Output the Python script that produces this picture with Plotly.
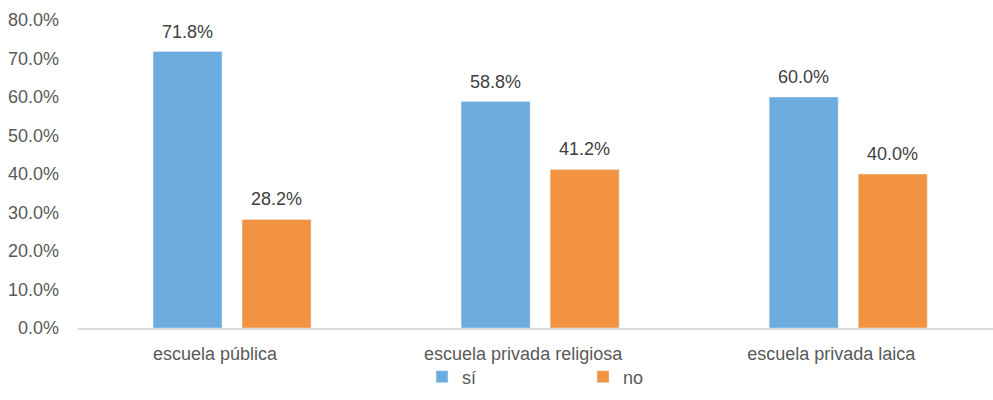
import plotly.graph_objects as go

categories = ["escuela pública", "escuela privada religiosa", "escuela privada laica"]
si_values = [0.718, 0.588, 0.600]
no_values = [0.282, 0.412, 0.400]
y_ticks = [0, 0.1, 0.2, 0.3, 0.4, 0.5, 0.6, 0.7, 0.8]

FONT = "Liberation Sans, Arial, sans-serif"
FS = 18
BLUE = "#6CABDD"
ORANGE = "#F19340"

fig = go.Figure()
fig.add_trace(go.Bar(name="sí", x=categories, y=si_values, marker_color=BLUE))
fig.add_trace(go.Bar(name="no", x=categories, y=no_values, marker_color=ORANGE))

# data labels above bars
for vals, shift in ((si_values, -44.5), (no_values, 44.5)):
    for cat, v in zip(categories, vals):
        fig.add_annotation(
            x=cat, y=v, xref="x", yref="y", text=f"{v*100:.1f}%",
            showarrow=False, xshift=shift, yshift=8, yanchor="bottom",
            font=dict(size=FS, color="#404040", family=FONT),
        )

fig.update_layout(
    width=993, height=400,
    margin=dict(l=78, r=0, t=20, b=72, autoexpand=False),
    paper_bgcolor="white", plot_bgcolor="white",
    barmode="group", bargap=0.422, bargroupgap=0.225,
    font=dict(family=FONT, size=FS, color="#595959"),
    showlegend=True,
    legend=dict(orientation="h", xref="container", x=0.425, xanchor="left",
                yref="container", y=0.0575, yanchor="middle",
                bgcolor="rgba(0,0,0,0)",
                entrywidth=116, entrywidthmode="pixels", itemwidth=30,
                font=dict(size=FS, color="#595959", family=FONT)),
)
fig.update_xaxes(
    range=[-0.5, 2.47], showline=True, linecolor="#D9D9D9", linewidth=1.5,
    showgrid=False, ticks="", ticklabelshift=-17, ticklabelstandoff=9,
    tickfont=dict(size=FS, color="#595959", family=FONT),
)
fig.update_yaxes(
    range=[0, 0.8], tickvals=y_ticks, tickformat=".1%", showgrid=False,
    zeroline=False, showline=False, ticks="", ticklabelstandoff=18,
    tickfont=dict(size=FS, color="#595959", family=FONT),
)

fig.write_html("out.html")
